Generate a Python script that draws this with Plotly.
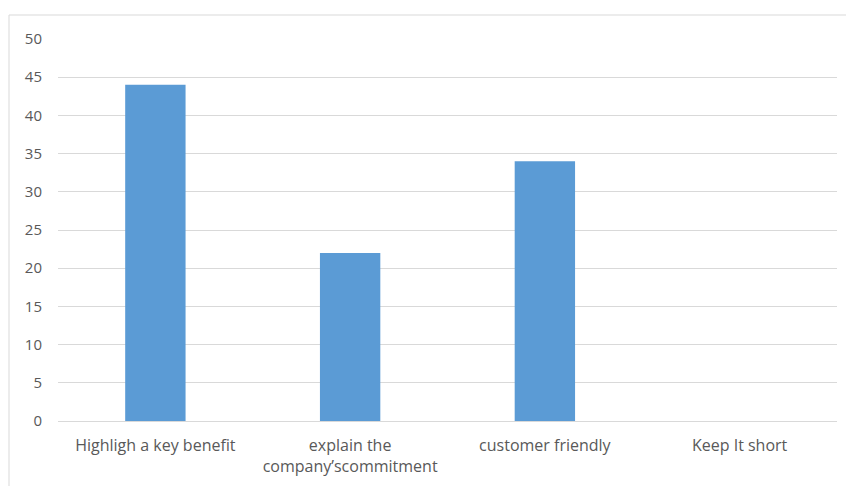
import plotly.graph_objects as go

categories = ["Highligh a key benefit", "explain the<br>company\u2019scommitment", "customer friendly", "Keep It short"]
values = [44, 22, 34, 0]
y_ticks = [0, 5, 10, 15, 20, 25, 30, 35, 40, 45, 50]

fig = go.Figure()
fig.add_trace(go.Bar(
    x=categories, y=values,
    marker=dict(color="#5B9BD5", line=dict(width=0)),
    width=0.31,
))

W, H = 846, 486
L, R, T, B = 58, 9, 39, 65
pw, ph = W - L - R, H - T - B

fig.update_layout(
    width=W, height=H,
    margin=dict(l=L, r=R, t=T, b=B),
    paper_bgcolor="white", plot_bgcolor="white",
    font=dict(family="Open Sans, Liberation Sans, sans-serif", size=16, color="#595959"),
    showlegend=False,
    xaxis=dict(showgrid=False, showline=False, ticks="", tickfont=dict(size=16, color="#595959"),
               ticklabelstandoff=13),
    yaxis=dict(range=[0, 50], tickvals=y_ticks, showgrid=True, gridcolor="#D9D9D9", gridwidth=1,
               zeroline=True, zerolinecolor="#D9D9D9", zerolinewidth=1, showline=False, ticks="",
               tickfont=dict(size=15, color="#595959"), ticklabelstandoff=15),
    bargap=0.69,
)

# outer chart frame (top and left edges visible)
x0 = (9 - L) / pw
y_top = 1 + (T - 15) / ph
y_bot = -(H - T - ph) / ph - 0.01
x1 = (W - L) / pw
fig.add_shape(type="line", xref="paper", yref="paper", x0=x0, x1=x1, y0=y_top, y1=y_top,
              line=dict(color="#D9D9D9", width=1))
fig.add_shape(type="line", xref="paper", yref="paper", x0=x0, x1=x0, y0=y_bot, y1=y_top,
              line=dict(color="#D9D9D9", width=1))

fig.write_html("out.html")
